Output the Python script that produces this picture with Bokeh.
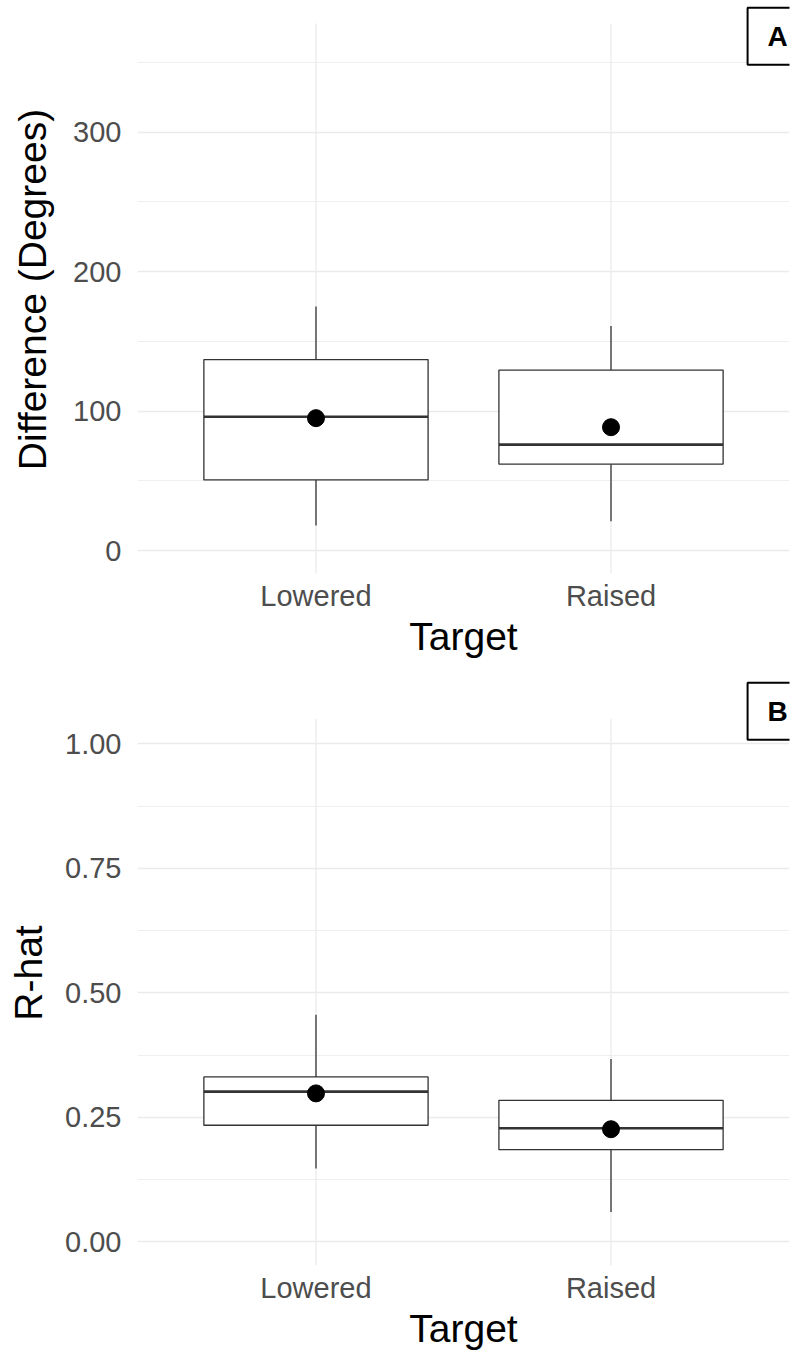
from bokeh.plotting import figure
from bokeh.layouts import column
from bokeh.models import FactorRange, Range1d, FixedTicker, Label, ColumnDataSource, NumeralTickFormatter
from bokeh.transform import dodge
from bokeh.embed import file_html
from bokeh.resources import INLINE

# ---- data ----
targets = ["Lowered", "Raised"]

diff_lower = [18, 21]
diff_q1 = [50.7, 62]
diff_median = [96, 76]
diff_q3 = [137, 129.5]
diff_upper = [175, 161]
diff_mean = [95, 88.5]
diff_ticks = [0, 100, 200, 300]
diff_minor = [50, 150, 250, 350]

rhat_lower = [0.147, 0.06]
rhat_q1 = [0.234, 0.185]
rhat_median = [0.3016, 0.228]
rhat_q3 = [0.331, 0.284]
rhat_upper = [0.456, 0.367]
rhat_mean = [0.298, 0.226]
rhat_ticks = [0, 0.25, 0.5, 0.75, 1.0]
rhat_minor = [0.125, 0.375, 0.625, 0.875]

FONT = "Liberation Sans"
BOXW = 0.76
GRID = "#ebebeb"


def panel(ylabel, lower, q1, med, q3, upper, mean, ticks, minor,
          y_lo, y_panel_top, y_frame_top,
          height, b_left, b_top, b_bottom, lab_standoff, tag, tag_y, fmt=None):
    p = figure(width=798, height=height, output_backend="svg", toolbar_location=None,
               x_range=FactorRange(factors=targets, range_padding=0.105,
                                   range_padding_units="absolute"),
               y_range=Range1d(y_lo, y_frame_top))
    p.min_border = 0
    p.min_border_left = b_left
    p.min_border_right = 9
    p.min_border_top = b_top
    p.min_border_bottom = b_bottom
    p.outline_line_color = None
    p.background_fill_color = "white"
    p.border_fill_color = "white"

    src = ColumnDataSource(dict(x=targets, lo=lower, q1=q1, med=med, q3=q3, up=upper, mean=mean))

    # vertical (category) grid lines, limited to the panel area
    p.segment(x0="x", x1="x", y0=y_lo, y1=y_panel_top, source=src,
              line_color=GRID, line_width=1.3)

    p.segment(x0="x", x1="x", y0="q3", y1="up", source=src, line_color="#333333", line_width=1.3)
    p.segment(x0="x", x1="x", y0="lo", y1="q1", source=src, line_color="#333333", line_width=1.3)
    p.vbar(x="x", bottom="q1", top="q3", width=BOXW, source=src, fill_color="white",
           line_color="#333333", line_width=1.3)
    p.segment(x0=dodge("x", -BOXW / 2, range=p.x_range), x1=dodge("x", BOXW / 2, range=p.x_range),
              y0="med", y1="med", source=src, line_color="#333333", line_width=2.6)
    p.scatter(x="x", y="mean", source=src, size=17, fill_color="black", line_color="black")

    # axes
    p.yaxis.ticker = FixedTicker(ticks=ticks, minor_ticks=minor)
    if fmt:
        p.yaxis.formatter = NumeralTickFormatter(format=fmt)
    for ax in (p.xaxis, p.yaxis):
        ax.axis_line_color = None
        ax.major_tick_line_color = None
        ax.minor_tick_line_color = None
        ax.major_tick_out = 0
        ax.major_tick_in = 0
        ax.major_label_text_font = FONT
        ax.major_label_text_font_size = "29px"
        ax.major_label_text_color = "#4d4d4d"
        ax.axis_label_text_font = FONT
        ax.axis_label_text_font_size = "39px"
        ax.axis_label_text_font_style = "normal"
        ax.axis_label_text_color = "black"
    p.yaxis.axis_label = ylabel
    p.xaxis.axis_label = "Target"
    p.yaxis.major_label_standoff = 12
    p.yaxis.axis_label_standoff = lab_standoff
    p.xaxis.major_label_standoff = 6
    p.xaxis.axis_label_standoff = 0

    # grid
    p.ygrid.grid_line_color = GRID
    p.ygrid.grid_line_width = 1.3
    p.ygrid.minor_grid_line_color = GRID
    p.ygrid.minor_grid_line_width = 0.8
    p.xgrid.grid_line_color = None

    lab = Label(x=2.065, y=tag_y, x_units="data", y_units="data", text=tag,
                text_font=FONT, text_font_size="28px", text_font_style="bold",
                text_color="black", text_align="center", text_baseline="middle",
                border_line_color="black", border_line_width=2,
                background_fill_color="white",
                padding=dict(left=20, right=20, top=13, bottom=13))
    p.add_layout(lab)
    return p


pA = panel("Difference (Degrees)", diff_lower, diff_q1, diff_median, diff_q3, diff_upper,
           diff_mean, diff_ticks, diff_minor, -16.4, 378, 390.9,
           660, 133, 5, 85, 16, "A", 368.9)
pB = panel("R-hat", rhat_lower, rhat_q1, rhat_median, rhat_q3, rhat_upper,
           rhat_mean, rhat_ticks, rhat_minor, -0.0476, 1.0496, 1.127,
           692, 137, 20, 80, 12, "B", 1.0655, fmt="0.00")

layout = column(pA, pB, spacing=0)
open("out.html", "w").write(file_html(layout, INLINE))
